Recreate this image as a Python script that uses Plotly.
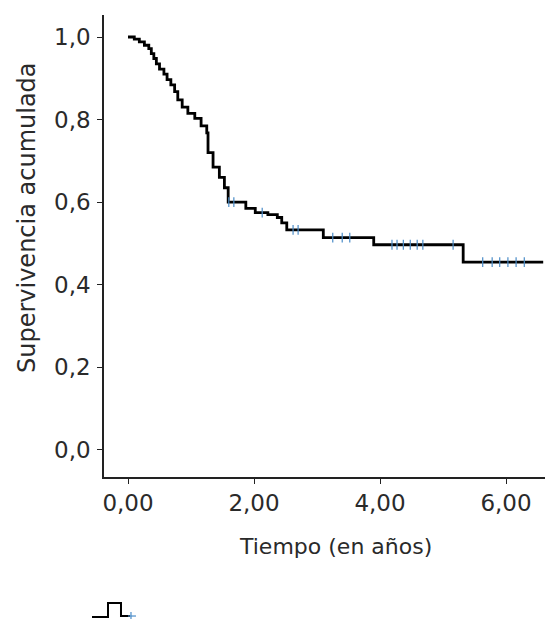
import numpy as np
import plotly.graph_objects as go

# Kaplan-Meier step data
event_times = [0.00, 0.10, 0.18, 0.26, 0.33, 0.37, 0.41, 0.45, 0.50, 0.57, 0.62, 0.68,
               0.74, 0.79, 0.86, 0.95, 1.06, 1.16, 1.25, 1.27, 1.35, 1.45, 1.53, 1.59,
               1.87, 2.02, 2.22, 2.37, 2.44, 2.52, 3.10, 3.90, 5.32]
survival = [1.000, 0.995, 0.988, 0.980, 0.972, 0.960, 0.948, 0.935, 0.922, 0.910, 0.897, 0.884,
            0.868, 0.848, 0.830, 0.815, 0.803, 0.785, 0.768, 0.720, 0.685, 0.660, 0.635, 0.600,
            0.585, 0.575, 0.570, 0.563, 0.550, 0.533, 0.514, 0.497, 0.455]
end_time = 6.59

censor_times = [1.60, 1.68, 2.13, 2.62, 2.70, 3.25, 3.40, 3.52, 4.19, 4.27, 4.37, 4.48,
                4.59, 4.68, 5.16, 5.63, 5.78, 5.90, 6.03, 6.16, 6.29]

x_tick_values = [0, 2, 4, 6]
x_tick_labels = ["0,00", "2,00", "4,00", "6,00"]
y_tick_values = [0.0, 0.2, 0.4, 0.6, 0.8, 1.0]
y_tick_labels = ["0,0", "0,2", "0,4", "0,6", "0,8", "1,0"]
x_title = "Tiempo (en años)"
y_title = "Supervivencia acumulada"

x_line = event_times + [end_time]
y_line = survival + [survival[-1]]

idx = np.searchsorted(np.array(event_times), np.array(censor_times), side="right") - 1
censor_surv = np.array(survival)[idx]

fig = go.Figure()
fig.add_trace(go.Scatter(x=x_line, y=y_line, mode="lines",
                         line=dict(shape="hv", color="black", width=2.8),
                         showlegend=False, hoverinfo="skip"))
fig.add_trace(go.Scatter(x=censor_times, y=censor_surv, mode="markers",
                         marker=dict(symbol="line-ns", size=7,
                                     line=dict(color="#4a8cc8", width=1.2)),
                         showlegend=False))

font_family = "DejaVu Sans, Verdana, sans-serif"
text_color = "#2a2a2a"
axis_common = dict(showline=True, linecolor="#222", linewidth=1.5, ticks="outside",
                   ticklen=5, tickcolor="#222", showgrid=False, zeroline=False,
                   automargin=False,
                   tickfont=dict(family=font_family, size=23, color=text_color))

fig.update_layout(
    width=545, height=611,
    margin=dict(l=96, r=3, t=7, b=142),
    plot_bgcolor="white", paper_bgcolor="white",
    xaxis=dict(range=[-0.381, 6.698], tickvals=x_tick_values, ticktext=x_tick_labels,
               **axis_common),
    yaxis=dict(range=[-0.0654, 1.0533], tickvals=y_tick_values, ticktext=y_tick_labels,
               ticklabelstandoff=2, **axis_common),
    annotations=[
        dict(text=x_title, xref="paper", yref="paper", x=0.520, y=-0.1515,
             xanchor="center", yanchor="middle", showarrow=False,
             font=dict(family=font_family, size=22, color=text_color)),
        dict(text=y_title, xref="paper", yref="paper", x=-0.1726, y=0.5606,
             xanchor="center", yanchor="middle", showarrow=False, textangle=-90,
             font=dict(family=font_family, size=24, color=text_color)),
    ],
    shapes=[
        dict(type="path", xref="paper", yref="paper",
             path="M -0.0269,-0.303 L 0.00897,-0.303 L 0.00897,-0.2727 L 0.0381,-0.2727 L 0.0381,-0.3009 L 0.0583,-0.3009",
             line=dict(color="black", width=2)),
        dict(type="line", xref="paper", yref="paper", x0=0.0538, x1=0.0717, y0=-0.3009, y1=-0.3009,
             line=dict(color="#4a8cc8", width=1.2)),
        dict(type="line", xref="paper", yref="paper", x0=0.0605, x1=0.0605, y0=-0.2922, y1=-0.3095,
             line=dict(color="#4a8cc8", width=1.2)),
    ],
)

fig.write_html("out.html")
